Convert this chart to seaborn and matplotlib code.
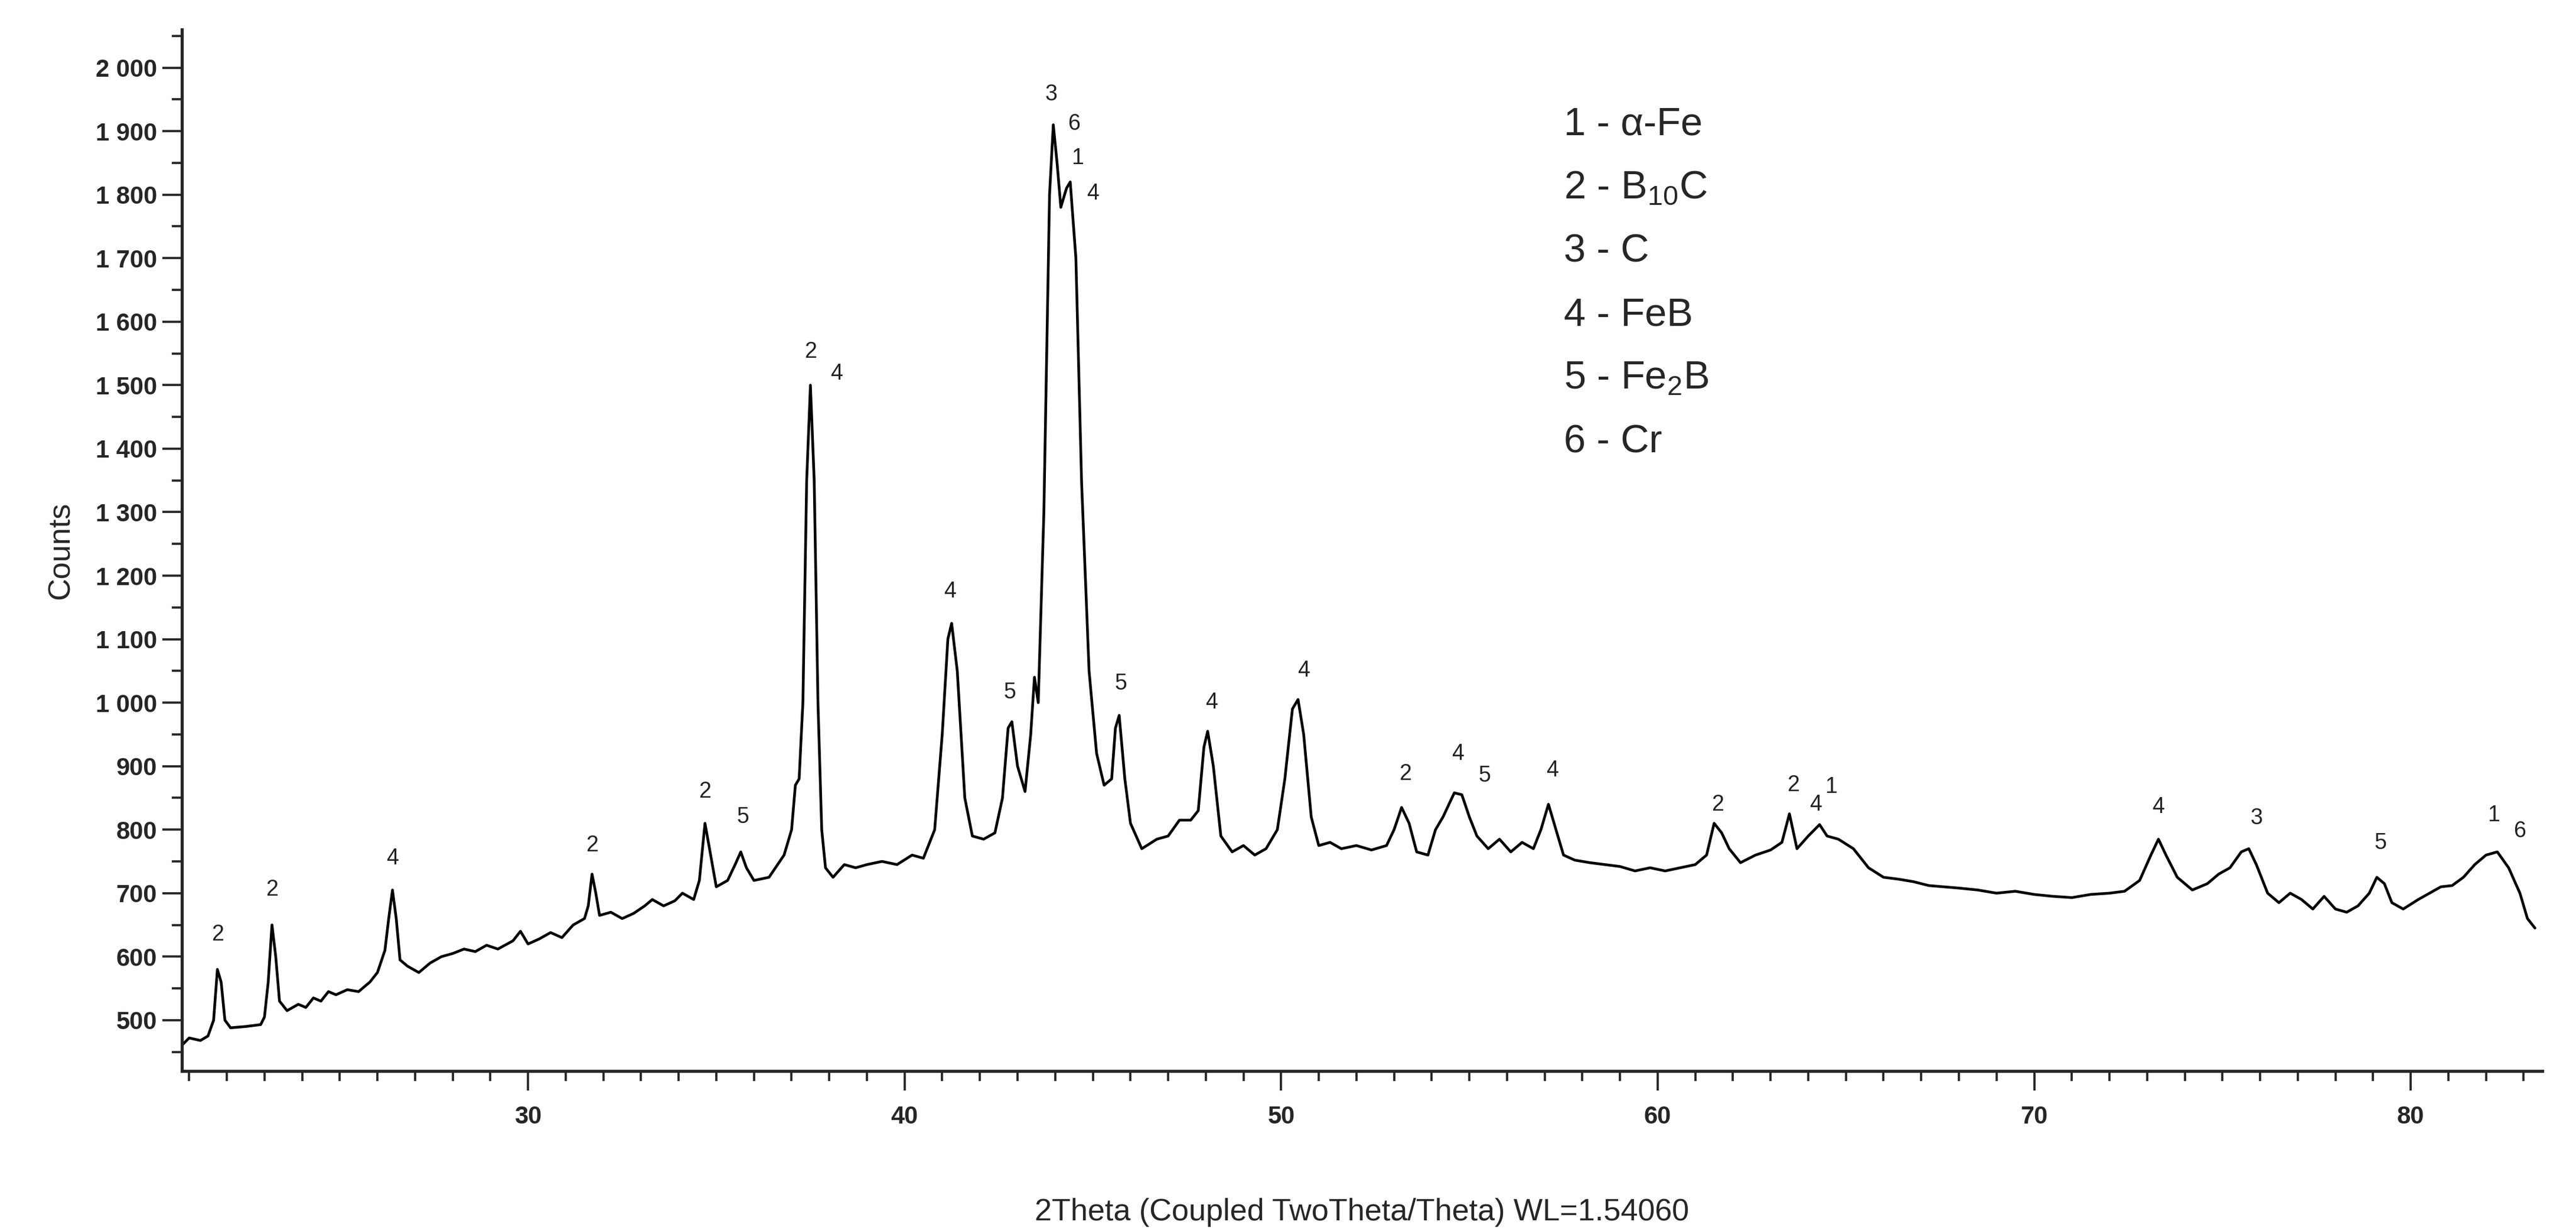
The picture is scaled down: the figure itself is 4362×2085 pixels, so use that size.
import matplotlib
matplotlib.use("Agg")
import matplotlib.pyplot as plt
import seaborn as sns
import pandas as pd
from matplotlib.ticker import MultipleLocator, FuncFormatter

two_theta = [20.8,21.0,21.3,21.5,21.65,21.75,21.85,21.95,22.1,22.5,22.9,23.0,23.1,23.2,23.3,23.4,23.6,23.9,24.1,24.3,24.5,24.7,24.9,25.2,25.5,25.8,26.0,26.2,26.3,26.4,26.5,26.6,26.8,27.1,27.4,27.7,28.0,28.3,28.6,28.9,29.2,29.6,29.8,30.0,30.3,30.6,30.9,31.2,31.5,31.6,31.7,31.8,31.9,32.2,32.5,32.8,33.1,33.3,33.6,33.9,34.1,34.4,34.55,34.7,34.85,35.0,35.3,35.5,35.65,35.8,36.0,36.4,36.8,37.0,37.1,37.2,37.3,37.4,37.5,37.6,37.7,37.8,37.9,38.1,38.4,38.7,39.0,39.4,39.8,40.2,40.5,40.8,41.0,41.15,41.25,41.4,41.6,41.8,42.1,42.4,42.6,42.75,42.85,43.0,43.2,43.35,43.45,43.55,43.7,43.85,43.95,44.05,44.15,44.3,44.4,44.55,44.7,44.9,45.1,45.3,45.5,45.6,45.7,45.85,46.0,46.3,46.7,47.0,47.3,47.6,47.8,47.95,48.05,48.2,48.4,48.7,49.0,49.3,49.6,49.9,50.1,50.3,50.45,50.6,50.8,51.0,51.3,51.6,52.0,52.4,52.8,53.0,53.2,53.4,53.6,53.9,54.1,54.3,54.6,54.8,55.0,55.2,55.5,55.8,56.1,56.4,56.7,56.9,57.1,57.3,57.5,57.8,58.2,58.6,59.0,59.4,59.8,60.2,60.6,61.0,61.3,61.5,61.7,61.9,62.2,62.6,63.0,63.3,63.5,63.7,64.0,64.3,64.5,64.8,65.2,65.6,66.0,66.4,66.8,67.2,67.6,68.0,68.5,69.0,69.5,70.0,70.5,71.0,71.5,72.0,72.4,72.8,73.1,73.3,73.5,73.8,74.2,74.6,74.9,75.2,75.5,75.7,75.9,76.2,76.5,76.8,77.1,77.4,77.7,78.0,78.3,78.6,78.9,79.1,79.3,79.5,79.8,80.2,80.5,80.8,81.1,81.4,81.7,82.0,82.3,82.6,82.9,83.1,83.3]
counts = [460,472,468,475,500,580,560,500,488,490,493,505,560,650,600,530,515,525,520,535,530,545,540,548,545,560,575,610,660,705,660,595,585,575,590,600,605,612,608,618,612,625,640,620,628,638,630,650,660,680,730,700,665,670,660,668,680,690,680,688,700,690,720,810,760,710,720,745,765,740,720,725,760,800,870,880,1000,1350,1500,1350,1000,800,740,725,745,740,745,750,745,760,755,800,950,1100,1125,1050,850,790,785,795,850,960,970,900,860,950,1040,1000,1300,1800,1910,1850,1780,1810,1820,1700,1350,1050,920,870,880,960,980,880,810,770,785,790,815,815,830,930,955,900,790,765,775,760,770,800,880,990,1005,950,820,775,780,770,775,768,775,800,835,810,765,760,800,820,858,855,820,790,770,785,765,780,770,800,840,800,760,752,748,745,742,735,740,735,740,745,760,810,795,770,748,760,768,780,825,770,790,808,790,785,770,740,725,722,718,712,710,708,705,700,703,698,695,693,698,700,703,720,760,785,760,725,705,715,730,740,765,770,745,700,685,700,690,675,695,675,670,680,700,725,715,685,675,690,700,710,712,725,745,760,765,740,700,660,645]

peak_x = [21.75,23.2,26.4,31.7,34.7,35.7,37.5,38.2,41.2,42.8,43.9,44.5,44.6,45.0,45.75,48.15,50.6,53.3,54.7,55.4,57.2,61.6,63.6,64.2,64.6,73.3,75.9,79.2,82.2,82.9]
peak_y = [635,705,755,775,860,820,1552,1518,1175,1016,1958,1911,1857,1802,1030,1000,1050,888,919,885,893,839,870,839,867,836,818,779,823,797]
peak_lbl = ['2','2','4','2','2','5','2','4','4','5','3','6','1','4','5','4','4','2','4','5','4','2','2','4','1','4','3','5','1','6']

legend_lines = ['1 - α-Fe', '2 - B$_{10}$C', '3 - C', '4 - FeB', '5 - Fe$_2$B', '6 - Cr']
legend_y = [1910, 1810, 1710, 1610, 1510, 1410]

sns.set_theme(style="ticks")
plt.rcParams['font.family'] = ['Liberation Sans', 'DejaVu Sans']
plt.rcParams['mathtext.fontset'] = 'custom'
plt.rcParams['mathtext.rm'] = 'Liberation Sans'

fig = plt.figure(figsize=(4362/300, 2085/300), dpi=300)
ax = fig.add_axes([0.0705, 0.13, 0.9165, 0.846])
df = pd.DataFrame({'x': two_theta, 'y': counts})
sns.lineplot(data=df, x='x', y='y', ax=ax, color='black', linewidth=1.1, estimator=None, sort=False)

for x, y, t in zip(peak_x, peak_y, peak_lbl):
    ax.text(x, y, t, ha='center', va='center', fontsize=9, color='#222222')
for t, y in zip(legend_lines, legend_y):
    ax.text(57.5, y, t, ha='left', va='center', fontsize=16)

ax.set_xlim(20.8, 83.5)
ax.set_ylim(420, 2060)
ax.xaxis.set_major_locator(MultipleLocator(10))
ax.xaxis.set_minor_locator(MultipleLocator(1))
ax.yaxis.set_major_locator(MultipleLocator(100))
ax.yaxis.set_minor_locator(MultipleLocator(50))
ax.yaxis.set_major_formatter(FuncFormatter(lambda v, p: '' if v < 500 else f"{int(v):,}".replace(',', ' ')))
ax.xaxis.set_major_formatter(FuncFormatter(lambda v, p: f"{int(v)}" if 30 <= v <= 80 else ''))
ax.tick_params(axis='y', which='major', length=8, width=0.9, labelsize=10, pad=2)
ax.tick_params(axis='y', which='minor', length=4, width=0.9)
ax.tick_params(axis='x', which='major', length=8, width=0.9, labelsize=10, pad=6)
ax.tick_params(axis='x', which='minor', length=4, width=0.9)
for lab in ax.get_yticklabels() + ax.get_xticklabels():
    lab.set_fontweight('bold')
ax.spines['top'].set_visible(False)
ax.spines['right'].set_visible(False)
ax.set_xlabel('2Theta (Coupled TwoTheta/Theta) WL=1.54060', fontsize=12.5, labelpad=28)
ax.set_ylabel('Counts', fontsize=12.5, labelpad=8)
fig.savefig('out.png', dpi=300, facecolor='white')
